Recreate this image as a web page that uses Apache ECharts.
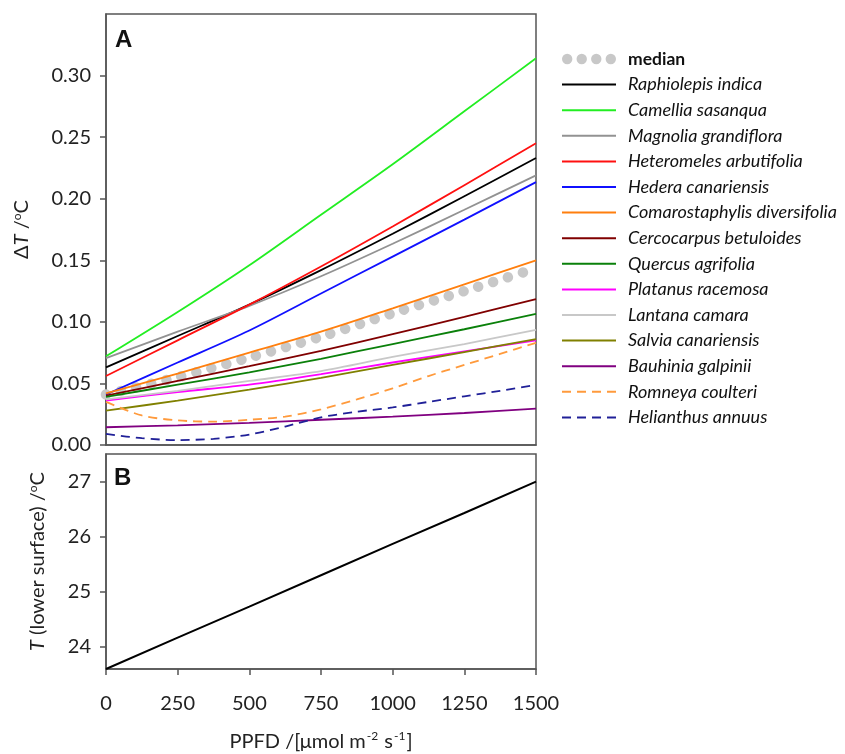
<!DOCTYPE html>
<html><head><meta charset="utf-8">
<script src="https://cdn.jsdelivr.net/npm/echarts@6/dist/echarts.min.js"></script>
<style>html,body{margin:0;padding:0;background:#fff}#c{width:845px;height:754px}</style>
</head><body><div id="c"></div>
<script>
// ---- data ----
const ppfd = [0, 250, 500, 750, 1000, 1250, 1500];
const ppfdFine = [0, 125, 250, 375, 500, 625, 750, 875, 1000, 1125, 1250, 1375, 1500];
const xTicks = [0, 250, 500, 750, 1000, 1250, 1500];
const yTicksA = [0, 0.05, 0.10, 0.15, 0.20, 0.25, 0.30];
const yTicksB = [24, 25, 26, 27];
const median = [0.041, 0.055, 0.071, 0.088, 0.107, 0.125, 0.1435];
const raphiolepis = [0.063, 0.0885, 0.114, 0.142, 0.1715, 0.202, 0.233];
const camellia = [0.072, 0.108, 0.146, 0.187, 0.228, 0.271, 0.314];
const magnolia = [0.0705, 0.092, 0.113, 0.137, 0.1634, 0.191, 0.219];
const heteromeles = [0.056, 0.085, 0.114, 0.145, 0.1775, 0.211, 0.245];
const hedera = [0.041, 0.067, 0.093, 0.123, 0.153, 0.183, 0.2135];
const comarostaphylis = [0.042, 0.058, 0.075, 0.092, 0.111, 0.1305, 0.150];
const cercocarpus = [0.040, 0.052, 0.064, 0.0765, 0.090, 0.104, 0.1185];
const quercus = [0.039, 0.049, 0.059, 0.070, 0.082, 0.094, 0.1065];
const platanus = [0.036, 0.043, 0.049, 0.0575, 0.067, 0.076, 0.085];
const lantana = [0.037, 0.044, 0.052, 0.060, 0.0715, 0.082, 0.0935];
const salvia = [0.028, 0.036, 0.045, 0.0545, 0.065, 0.0755, 0.086];
const bauhinia = [0.0144, 0.016, 0.018, 0.0205, 0.023, 0.026, 0.0295];
const romneya = [0.035, 0.024, 0.020, 0.019, 0.0205, 0.023, 0.029, 0.037, 0.046, 0.056, 0.065, 0.074, 0.083];
const helianthus = [0.009, 0.0055, 0.004, 0.005, 0.0085, 0.015, 0.0225, 0.027, 0.0305, 0.035, 0.0395, 0.044, 0.0488];
const lowerT = [23.6, 24.17, 24.73, 25.3, 25.87, 26.43, 27.0];

const speciesNames = ['Raphiolepis indica','Camellia sasanqua','Magnolia grandiflora','Heteromeles arbutifolia',
  'Hedera canariensis','Comarostaphylis diversifolia','Cercocarpus betuloides','Quercus agrifolia',
  'Platanus racemosa','Lantana camara','Salvia canariensis','Bauhinia galpinii','Romneya coulteri','Helianthus annuus'];
const speciesValues = [raphiolepis, camellia, magnolia, heteromeles, hedera, comarostaphylis, cercocarpus,
  quercus, platanus, lantana, salvia, bauhinia, romneya, helianthus];
const speciesX = [ppfd, ppfd, ppfd, ppfd, ppfd, ppfd, ppfd, ppfd, ppfd, ppfd, ppfd, ppfd, ppfdFine, ppfdFine];
const speciesColors = ['#000000','#22ee22','#929292','#ff1010','#1010ff','#ff7f0e','#800000','#0a800a',
  '#ff00ff','#c8c8c8','#808000','#800080','#ff9a3c','#202098'];
const speciesDashed = [false,false,false,false,false,false,false,false,false,false,false,false,true,true];

const pairs = (xs, ys) => xs.map((x, i) => [x, ys[i]]);
const FONT = 'Lato';
const axisColor = '#555';

const series = [];
series.push({
  name: 'median', type: 'line', xAxisIndex: 0, yAxisIndex: 0, data: pairs(ppfd, median),
  smooth: 0.3, symbol: 'none', z: 1, silent: true,
  itemStyle: { color: '#c8c8c8' },
  lineStyle: { color: '#c8c8c8', width: 10.5, type: [0.01, 15.5], cap: 'round' }
});
speciesNames.forEach((n, i) => {
  series.push({
    name: n, type: 'line', xAxisIndex: 0, yAxisIndex: 0, data: pairs(speciesX[i], speciesValues[i]),
    smooth: 0.3, symbol: 'none', z: 3, silent: true,
    itemStyle: { color: speciesColors[i] },
    lineStyle: { color: speciesColors[i], width: 1.8, type: speciesDashed[i] ? [9, 6] : 'solid' }
  });
});
series.push({
  name: 'T lower', type: 'line', xAxisIndex: 1, yAxisIndex: 1, data: pairs(ppfd, lowerT),
  symbol: 'none', silent: true, lineStyle: { color: '#000', width: 2 }
});

const dotsIcon = 'path://M0,5a5,5 0 1,0 10,0a5,5 0 1,0 -10,0Z M14,5a5,5 0 1,0 10,0a5,5 0 1,0 -10,0Z M28,5a5,5 0 1,0 10,0a5,5 0 1,0 -10,0Z M42,5a5,5 0 1,0 10,0a5,5 0 1,0 -10,0Z';

const option = {
  animation: false,
  backgroundColor: '#fff',
  textStyle: { fontFamily: FONT },
  grid: [
    { left: 106, top: 14, width: 430, height: 431, show: true, borderColor: axisColor, borderWidth: 1.5, backgroundColor: 'transparent' },
    { left: 106, top: 454, width: 430, height: 215, show: true, borderColor: axisColor, borderWidth: 1.5, backgroundColor: 'transparent' }
  ],
  xAxis: [
    { type: 'value', gridIndex: 0, min: 0, max: 1500, interval: 250,
      axisLine: { show: true, lineStyle: { color: axisColor, width: 1.5 } },
      axisTick: { show: false }, axisLabel: { show: false }, splitLine: { show: false } },
    { type: 'value', gridIndex: 1, min: 0, max: 1500, interval: 250,
      axisLine: { show: true, lineStyle: { color: axisColor, width: 1.5 } },
      axisTick: { show: true, length: 6, lineStyle: { color: axisColor, width: 1.5 } },
      axisLabel: { margin: 25, color: '#222', fontSize: 20, fontFamily: FONT,
        customValues: xTicks, formatter: v => String(v) },
      splitLine: { show: false },
      name: '{t|PPFD /[μmol m}{s|-2}{t| s}{s|-1}{t|]}', nameLocation: 'middle', nameGap: 61,
      nameTextStyle: { rich: {
        t: { fontSize: 20, color: '#222', fontFamily: FONT, lineHeight: 24 },
        s: { fontSize: 12, color: '#222', fontFamily: FONT, verticalAlign: 'top', lineHeight: 24, padding: [0, 1, 10, 1] }
      } } }
  ],
  yAxis: [
    { type: 'value', gridIndex: 0, min: 0, max: 0.35,
      axisLine: { show: true, lineStyle: { color: axisColor, width: 1.5 } },
      axisTick: { show: true, length: 6, lineStyle: { color: axisColor, width: 1.5 }, customValues: yTicksA },
      axisLabel: { margin: 15, color: '#222', fontSize: 20, fontFamily: FONT,
        customValues: yTicksA, formatter: v => v.toFixed(2) },
      splitLine: { show: false },
      name: '{t|Δ}{i|T}{t| /}{s|o}{t|C}', nameLocation: 'middle', nameGap: 72,
      nameTextStyle: { rich: {
        t: { fontSize: 20, color: '#222', fontFamily: FONT, lineHeight: 24 },
        i: { fontSize: 20, color: '#222', fontFamily: FONT, fontStyle: 'italic', lineHeight: 24 },
        s: { fontSize: 12, color: '#222', fontFamily: FONT, lineHeight: 24, padding: [0, 0, 10, 0] }
      } } },
    { type: 'value', gridIndex: 1, min: 23.6, max: 27.5,
      axisLine: { show: true, lineStyle: { color: axisColor, width: 1.5 } },
      axisTick: { show: true, length: 6, lineStyle: { color: axisColor, width: 1.5 }, customValues: yTicksB },
      axisLabel: { margin: 15, color: '#222', fontSize: 20, fontFamily: FONT,
        customValues: yTicksB, formatter: v => String(v) },
      splitLine: { show: false },
      name: '{i|T}{t| (lower surface) /}{s|o}{t|C}', nameLocation: 'middle', nameGap: 56,
      nameTextStyle: { rich: {
        t: { fontSize: 20, color: '#222', fontFamily: FONT, lineHeight: 24 },
        i: { fontSize: 20, color: '#222', fontFamily: FONT, fontStyle: 'italic', lineHeight: 24 },
        s: { fontSize: 12, color: '#222', fontFamily: FONT, lineHeight: 24, padding: [0, 0, 10, 0] }
      } } }
  ],
  legend: {
    orient: 'vertical', left: 556, top: 44, itemWidth: 54, itemHeight: 12, itemGap: 5.6,
    selectedMode: false,
    itemStyle: { opacity: 0 },
    data: [{ name: 'median', icon: dotsIcon, itemStyle: { opacity: 1, color: '#c8c8c8' } }]
      .concat(speciesNames.map(n => ({ name: n }))),
    formatter: n => n === 'median' ? '{b|median}' : '{i|' + n + '}',
    textStyle: { fontFamily: FONT, fontSize: 18, lineHeight: 20, rich: {
      b: { fontSize: 17.5, fontWeight: 'bold', color: '#111', fontFamily: FONT, lineHeight: 20, padding: [0, 0, 0, 7] },
      i: { fontSize: 18, fontStyle: 'italic', color: '#111', fontFamily: FONT, lineHeight: 20, padding: [0, 0, 0, 7] }
    } }
  },
  graphic: [
    { type: 'text', left: 115, top: 28, style: { text: 'A', fontSize: 24, fontWeight: 'bold', fontFamily: 'Liberation Sans', fill: '#111' } },
    { type: 'text', left: 114, top: 466, style: { text: 'B', fontSize: 24, fontWeight: 'bold', fontFamily: 'Liberation Sans', fill: '#111' } }
  ],
  series: series
};
const chart = echarts.init(document.getElementById('c'), null, { renderer: 'canvas' });
chart.setOption(option);
</script></body></html>
